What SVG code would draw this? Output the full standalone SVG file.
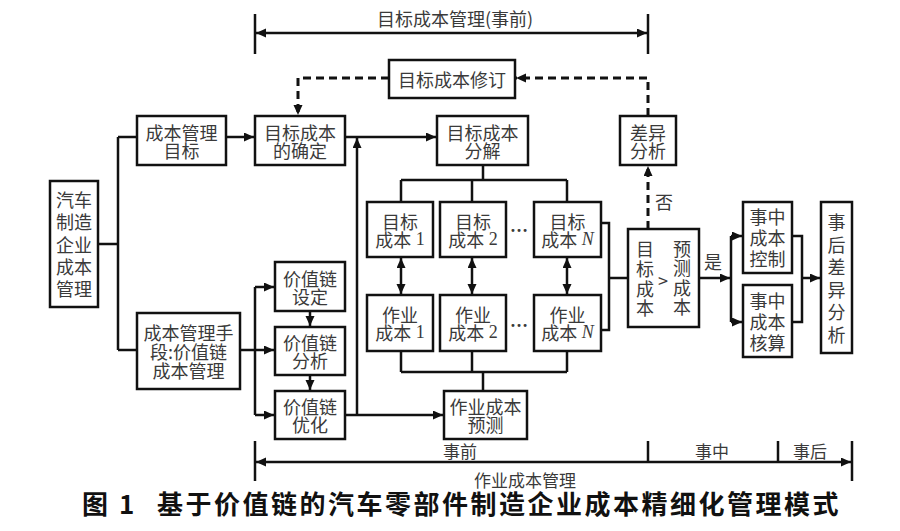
<svg xmlns="http://www.w3.org/2000/svg" width="900" height="531" viewBox="0 0 900 531">
<style>
  .box{fill:#fff;stroke:#111;stroke-width:2.5}
  .t{font-family:"Noto Sans CJK SC","Noto Sans",sans-serif;font-size:18px;fill:#3a3a3a;text-anchor:middle;dominant-baseline:central}
  .s{font-size:17px}
  .d{font-family:"Liberation Serif",serif}
  .i{font-family:"Liberation Serif",serif;font-style:italic}
  .ln{fill:none;stroke:#111;stroke-width:2.5}
  .ds{fill:none;stroke:#111;stroke-width:3;stroke-dasharray:8 5}
  .ar{marker-end:url(#ah)}
  .bi{marker-end:url(#ah);marker-start:url(#ah)}
  .cap{font-family:"Noto Sans CJK SC","Noto Sans",sans-serif;font-size:26px;font-weight:bold;fill:#111;letter-spacing:2.5px}
</style>
<defs>
  <marker id="ah" markerUnits="userSpaceOnUse" markerWidth="11" markerHeight="10" refX="10" refY="4.5" orient="auto-start-reverse">
    <path d="M0,0 L10,4.5 L0,9 z" fill="#111"/>
  </marker>
</defs>
<rect width="900" height="531" fill="#fff"/>

<g id="connectors">
  <path class="ln bi" d="M256,33 H647"/>
  <path class="ln" d="M255,14 V54 M648,14 V54"/>
  <text class="t" x="455" y="18">目标成本管理(事前)</text>
  <path class="ds ar" d="M389,78 H298 V115"/>
  <path class="ds ar" d="M648,116 V78 H516"/>
  <path class="ds ar" d="M648,229 V166"/>
  <text class="t" x="664" y="201">否</text>
  <path class="ln" d="M98,244 H118 M118,137 V350 M118,137 H137 M118,350 H137"/>
  <path class="ln ar" d="M226,137 H254"/>
  <path class="ln ar" d="M345,137 H436"/>
  <path class="ln ar" d="M357,415 V138"/>
  <path class="ln ar" d="M345,415 H443"/>
  <path class="ln ar" d="M240,350 H274"/>
  <path class="ln" d="M255,287 V415"/>
  <path class="ln ar" d="M255,287 H274"/>
  <path class="ln ar" d="M255,415 H274"/>
  <path class="ln ar" d="M310,311 V326"/>
  <path class="ln ar" d="M310,375 V390"/>
  <path class="ln" d="M483,165 V180 M401,180 H567 M401,180 V202 M472,180 V202 M567,180 V202"/>
  <path class="ln bi" d="M401,258 V294"/>
  <path class="ln bi" d="M472,258 V294"/>
  <path class="ln bi" d="M567,258 V294"/>
  <path class="ln" d="M401,351 V372 M472,351 V372 M567,351 V372 M401,372 H567 M483,372 V391"/>
  <text class="t d" x="519" y="226" font-weight="bold">…</text>
  <text class="t d" x="519" y="321" font-weight="bold">…</text>
  <path class="ln" d="M601,223 H609 V330 H601 M609,278 H628"/>
  <path class="ln ar" d="M699,278 H730"/>
  <text class="t" x="713" y="261">是</text>
  <path class="ln" d="M731,236 V322"/>
  <path class="ln ar" d="M731,236 H742"/>
  <path class="ln ar" d="M731,322 H742"/>
  <path class="ln" d="M792,236 H802 V322 H792"/>
  <path class="ln ar" d="M802,278 H820"/>
  <path class="ln bi" d="M256,462 H851"/>
  <path class="ln" d="M255,441 V481 M852,441 V481 M648,441 V462 M778,441 V462"/>
  <text class="t s" x="460" y="450">事前</text>
  <text class="t s" x="712" y="450">事中</text>
  <text class="t s" x="810" y="450">事后</text>
  <text class="t s" x="525" y="479">作业成本管理</text>
</g>

<g id="n-auto"><rect class="box" x="50" y="181" width="48" height="126"/>
  <text class="t" x="74" y="199">汽车<tspan x="74" dy="22">制造</tspan><tspan x="74" dy="23">企业</tspan><tspan x="74" dy="22">成本</tspan><tspan x="74" dy="22">管理</tspan></text></g>
<g id="n-goal"><rect class="box" x="137" y="116" width="89" height="49"/>
  <text class="t" x="181.5" y="132">成本管理<tspan x="181.5" dy="18">目标</tspan></text></g>
<g id="n-tcset"><rect class="box" x="255" y="116" width="90" height="49"/>
  <text class="t" x="300" y="132">目标成本<tspan x="300" dy="18">的确定</tspan></text></g>
<g id="n-revise"><rect class="box" x="389" y="60" width="126" height="38"/>
  <text class="t" x="452" y="79">目标成本修订</text></g>
<g id="n-decomp"><rect class="box" x="437" y="116" width="91" height="49"/>
  <text class="t" x="482.5" y="132">目标成本<tspan x="482.5" dy="18">分解</tspan></text></g>
<g id="n-diff"><rect class="box" x="620" y="116" width="56" height="49"/>
  <text class="t" x="648" y="132">差异<tspan x="648" dy="18">分析</tspan></text></g>

<g id="n-tc1"><rect class="box" x="367" y="202" width="66" height="55"/>
  <text class="t" x="400" y="221">目标<tspan x="400" dy="18">成本</tspan><tspan class="d"> 1</tspan></text></g>
<g id="n-tc2"><rect class="box" x="440" y="202" width="66" height="55"/>
  <text class="t" x="473" y="221">目标<tspan x="473" dy="18">成本</tspan><tspan class="d"> 2</tspan></text></g>
<g id="n-tcN"><rect class="box" x="534" y="202" width="67" height="55"/>
  <text class="t" x="567.5" y="221">目标<tspan x="567.5" dy="18">成本</tspan><tspan class="i"> N</tspan></text></g>
<g id="n-ac1"><rect class="box" x="367" y="295" width="66" height="56"/>
  <text class="t" x="400" y="314">作业<tspan x="400" dy="18">成本</tspan><tspan class="d"> 1</tspan></text></g>
<g id="n-ac2"><rect class="box" x="440" y="295" width="66" height="56"/>
  <text class="t" x="473" y="314">作业<tspan x="473" dy="18">成本</tspan><tspan class="d"> 2</tspan></text></g>
<g id="n-acN"><rect class="box" x="534" y="295" width="67" height="56"/>
  <text class="t" x="567.5" y="314">作业<tspan x="567.5" dy="18">成本</tspan><tspan class="i"> N</tspan></text></g>

<g id="n-compare"><rect class="box" x="628" y="229" width="71" height="98"/>
  <text class="t" x="645" y="248">目<tspan x="645" dy="20">标</tspan><tspan x="645" dy="20">成</tspan><tspan x="645" dy="19">本</tspan></text>
  <text class="t" x="663" y="280">&gt;</text>
  <text class="t" x="682" y="248">预<tspan x="682" dy="19">测</tspan><tspan x="682" dy="20">成</tspan><tspan x="682" dy="19">本</tspan></text></g>
<g id="n-ctrl"><rect class="box" x="743" y="202" width="49" height="71"/>
  <text class="t" x="767.5" y="216">事中<tspan x="767.5" dy="21">成本</tspan><tspan x="767.5" dy="21">控制</tspan></text></g>
<g id="n-acct"><rect class="box" x="743" y="285" width="49" height="72"/>
  <text class="t" x="767.5" y="300">事中<tspan x="767.5" dy="21">成本</tspan><tspan x="767.5" dy="21">核算</tspan></text></g>
<g id="n-post"><rect class="box" x="821" y="202" width="31" height="151"/>
  <text class="t" x="836.5" y="221">事<tspan x="836.5" dy="22.6">后</tspan><tspan x="836.5" dy="22.6">差</tspan><tspan x="836.5" dy="22.6">异</tspan><tspan x="836.5" dy="22.6">分</tspan><tspan x="836.5" dy="22.6">析</tspan></text></g>

<g id="n-means"><rect class="box" x="137" y="313" width="103" height="76"/>
  <text class="t" x="188.5" y="332">成本管理手<tspan x="188.5" dy="19">段:价值链</tspan><tspan x="188.5" dy="19">成本管理</tspan></text></g>
<g id="n-vc1"><rect class="box" x="275" y="262" width="70" height="49"/>
  <text class="t" x="310" y="278">价值链<tspan x="310" dy="18">设定</tspan></text></g>
<g id="n-vc2"><rect class="box" x="275" y="327" width="70" height="48"/>
  <text class="t" x="310" y="342">价值链<tspan x="310" dy="18">分析</tspan></text></g>
<g id="n-vc3"><rect class="box" x="275" y="391" width="70" height="48"/>
  <text class="t" x="310" y="406">价值链<tspan x="310" dy="18">优化</tspan></text></g>
<g id="n-forecast"><rect class="box" x="444" y="391" width="83" height="48"/>
  <text class="t" x="485.5" y="406">作业成本<tspan x="485.5" dy="18">预测</tspan></text></g>

<g id="caption">
  <text class="cap" x="82" y="514" letter-spacing="0">图 1</text>
  <text class="cap" x="157" y="514">基于价值链的汽车零部件制造企业成本精细化管理模式</text>
</g>
</svg>
